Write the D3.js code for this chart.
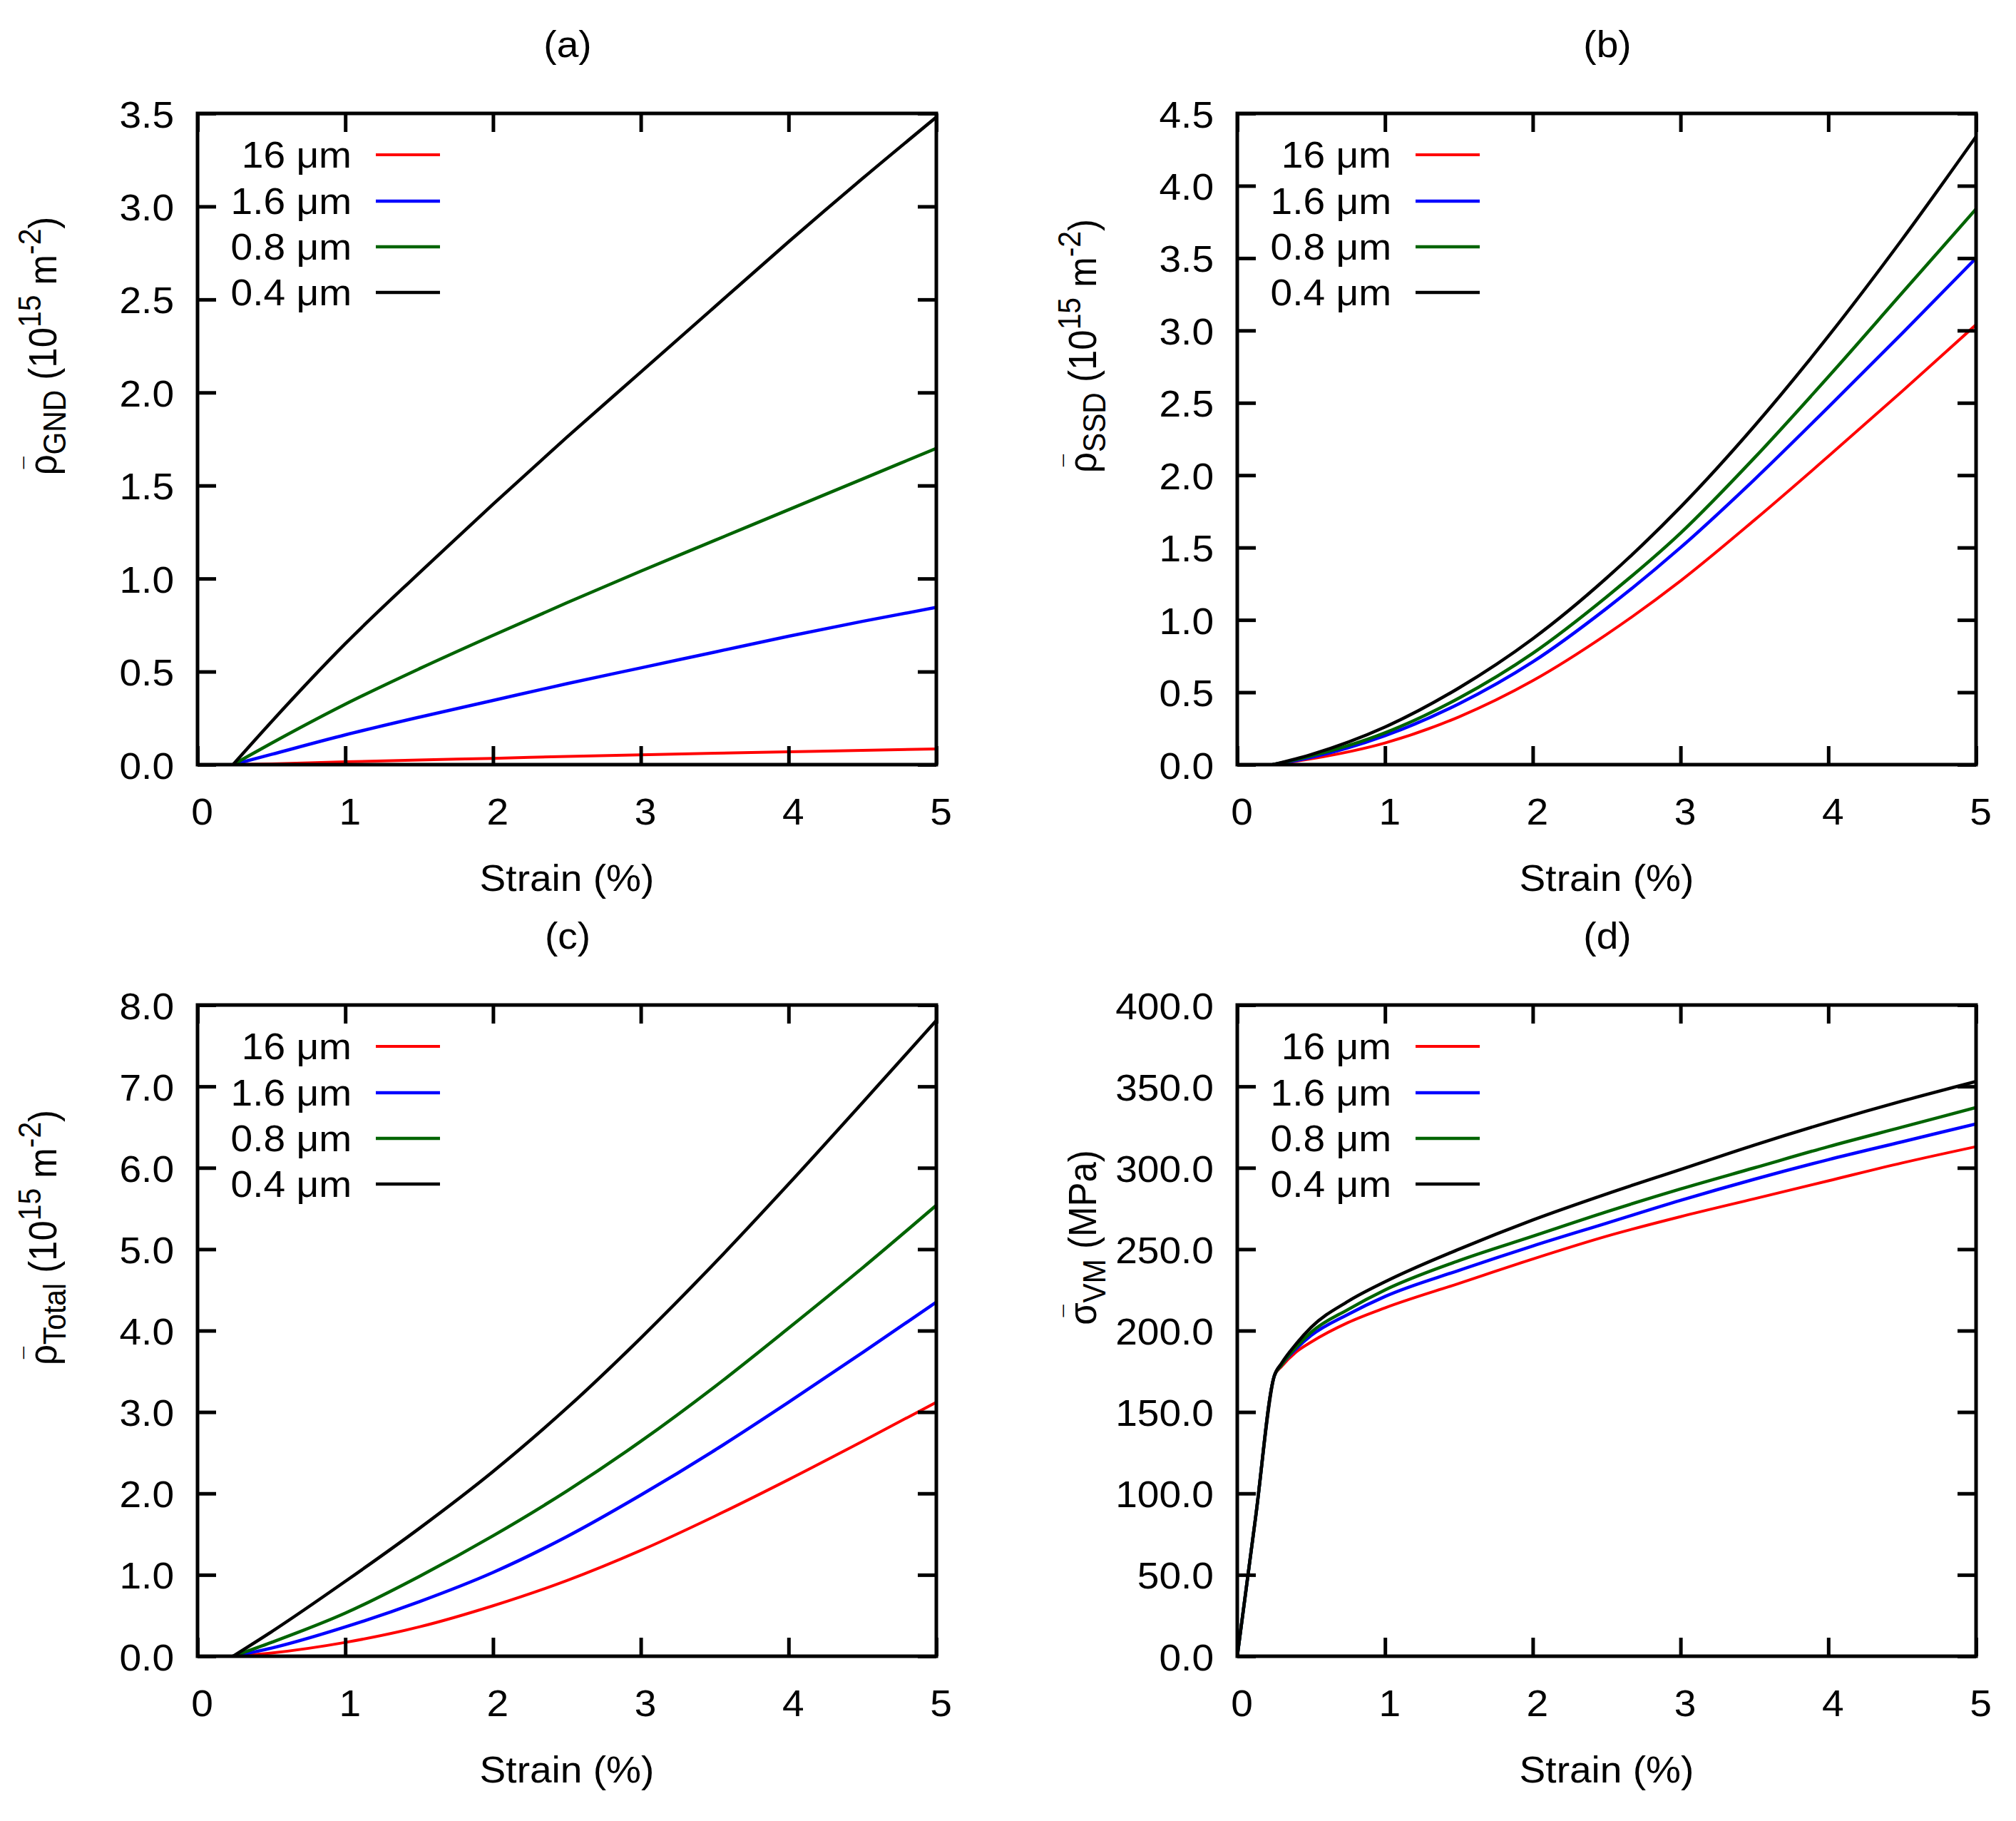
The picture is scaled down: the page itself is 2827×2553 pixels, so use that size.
<!DOCTYPE html>
<html><head><meta charset="utf-8">
<script src="https://cdn.jsdelivr.net/npm/d3@7"></script>
<style>html,body{margin:0;padding:0;background:#fff}svg{display:block}</style>
</head><body><svg id="chart"></svg>
<script>
// ---------------- data ----------------
const sizes = ["16 μm", "1.6 μm", "0.8 μm", "0.4 μm"];
const seriesColors = ["#ff0000", "#0000ff", "#006400", "#000000"];
const panelTitles = ["(a)", "(b)", "(c)", "(d)"];
const xTickValues = [0, 1, 2, 3, 4, 5];
const xLabel = "Strain (%)";

// strain (%) sampled for the dislocation density panels
const strainRho = [0.24, 0.5, 1, 1.5, 2, 2.5, 3, 3.5, 4, 4.5, 5];
// (a) GND density, 1e15 m^-2
const gnd16  = [0, 0.004, 0.015, 0.025, 0.034, 0.044, 0.053, 0.061, 0.069, 0.077, 0.084];
const gnd1_6 = [0, 0.055, 0.16, 0.255, 0.345, 0.435, 0.52, 0.605, 0.69, 0.77, 0.845];
const gnd0_8 = [0, 0.115, 0.325, 0.515, 0.695, 0.87, 1.04, 1.205, 1.37, 1.535, 1.70];
const gnd0_4 = [0, 0.23, 0.65, 1.03, 1.40, 1.76, 2.11, 2.46, 2.81, 3.15, 3.48];
// (b) SSD density
const ssd16  = [0, 0.04, 0.15, 0.33, 0.58, 0.90, 1.27, 1.69, 2.13, 2.58, 3.04];
const ssd1_6 = [0, 0.05, 0.20, 0.42, 0.71, 1.08, 1.50, 1.97, 2.47, 2.98, 3.50];
const ssd0_8 = [0, 0.06, 0.22, 0.46, 0.77, 1.16, 1.60, 2.12, 2.68, 3.26, 3.84];
const ssd0_4 = [0, 0.07, 0.26, 0.53, 0.87, 1.29, 1.78, 2.34, 2.96, 3.63, 4.34];
// (c) total density
const tot16  = [0, 0.04, 0.17, 0.36, 0.62, 0.93, 1.30, 1.72, 2.17, 2.64, 3.12];
const tot1_6 = [0, 0.10, 0.36, 0.67, 1.03, 1.47, 1.98, 2.53, 3.12, 3.73, 4.35];
const tot0_8 = [0, 0.17, 0.53, 0.98, 1.48, 2.03, 2.64, 3.31, 4.03, 4.77, 5.54];
const tot0_4 = [0, 0.30, 0.92, 1.57, 2.27, 3.05, 3.91, 4.83, 5.80, 6.80, 7.81];

// (d) von Mises stress, MPa
const strainVM = [0, 0.125, 0.25, 0.3, 0.4, 0.5, 0.75, 1, 1.5, 2, 2.5, 3, 3.5, 4, 4.5, 5];
const vm16  = [0, 86, 172, 178, 187, 193, 205, 214, 229, 244, 258, 270, 281, 292, 303, 313];
const vm1_6 = [0, 86, 172, 179, 189, 197, 210, 221, 237, 252, 266, 280, 293, 305, 316, 327];
const vm0_8 = [0, 86, 172, 179, 190, 199, 213, 225, 243, 258, 273, 287, 300, 313, 325, 337];
const vm0_4 = [0, 86, 172, 180, 192, 202, 218, 230, 250, 268, 284, 299, 314, 328, 341, 353];

const yTicksA = [0, 0.5, 1, 1.5, 2, 2.5, 3, 3.5];
const yTicksB = [0, 0.5, 1, 1.5, 2, 2.5, 3, 3.5, 4, 4.5];
const yTicksC = [0, 1, 2, 3, 4, 5, 6, 7, 8];
const yTicksD = [0, 50, 100, 150, 200, 250, 300, 350, 400];

// ---------------- layout ----------------
const W = 2827, H = 2553;
const FONT = "'Liberation Sans', Arial, sans-serif";
const FS = 51;       // font size
const SX = 1.08;     // horizontal glyph stretch seen in the reference
const svg = d3.select("#chart").attr("width", W).attr("height", H)
  .style("font-family", FONT);
svg.append("rect").attr("width", W).attr("height", H).attr("fill", "#fff");

function hText(parent, x, y, str, anchor) {
  return parent.append("text")
    .attr("transform", `translate(${x},${y}) scale(${SX},1)`)
    .attr("text-anchor", anchor || "middle")
    .attr("font-size", FS).attr("fill", "#000").text(str);
}

const panels = [
  {title: panelTitles[0], left: 277, top: 159, xs: strainRho, ys: [gnd16, gnd1_6, gnd0_8, gnd0_4], yMax: 3.5, yTicks: yTicksA, sym: "ρ", sub: "GND", unit: "density"},
  {title: panelTitles[1], left: 1735, top: 159, xs: strainRho, ys: [ssd16, ssd1_6, ssd0_8, ssd0_4], yMax: 4.5, yTicks: yTicksB, sym: "ρ", sub: "SSD", unit: "density"},
  {title: panelTitles[2], left: 277, top: 1409, xs: strainRho, ys: [tot16, tot1_6, tot0_8, tot0_4], yMax: 8, yTicks: yTicksC, sym: "ρ", sub: "Total", unit: "density"},
  {title: panelTitles[3], left: 1735, top: 1409, xs: strainVM, ys: [vm16, vm1_6, vm0_8, vm0_4], yMax: 400, yTicks: yTicksD, sym: "σ", sub: "VM", unit: "stress"}
];
const PW = 1036, PH = 913;
const TICK = 26, LW = 5;
const lineW = si => (si === 0 ? 4 : 4.5);

panels.forEach((p, pi) => {
  const g = svg.append("g").attr("transform", `translate(${p.left},${p.top})`);
  const x = d3.scaleLinear().domain([0, 5]).range([0, PW]);
  const y = d3.scaleLinear().domain([0, p.yMax]).range([PH, 0]);

  const clipId = "clip" + pi;
  g.append("clipPath").attr("id", clipId).append("rect")
    .attr("x", 0).attr("y", 0).attr("width", PW).attr("height", PH);

  // curves
  const line = d3.line().curve(d3.curveMonotoneX);
  const cg = g.append("g").attr("clip-path", `url(#${clipId})`);
  p.ys.forEach((vals, si) => {
    const pts = p.xs.map((xv, i) => [x(xv), y(vals[i])]);
    cg.append("path").attr("d", line(pts))
      .attr("fill", "none").attr("stroke", seriesColors[si])
      .attr("stroke-width", lineW(si))
      .attr("stroke-linejoin", "round");
  });

  // axes (inward ticks on all sides)
  const bottom = g.append("g").attr("transform", `translate(0,${PH})`)
    .call(d3.axisBottom(x).tickValues(xTickValues).tickSize(-TICK).tickSizeOuter(0).tickFormat(d3.format("d")));
  const top = g.append("g")
    .call(d3.axisTop(x).tickValues(xTickValues).tickSize(-TICK).tickSizeOuter(0).tickFormat(""));
  const left = g.append("g")
    .call(d3.axisLeft(y).tickValues(p.yTicks).tickSize(-TICK).tickSizeOuter(0).tickFormat(d3.format(".1f")));
  const right = g.append("g").attr("transform", `translate(${PW},0)`)
    .call(d3.axisRight(y).tickValues(p.yTicks).tickSize(-TICK).tickSizeOuter(0).tickFormat(""));
  [bottom, top, left, right].forEach(a => {
    a.select(".domain").remove();
    a.selectAll(".tick line").attr("stroke", "#000").attr("stroke-width", LW);
    a.attr("font-family", FONT).attr("font-size", FS);
  });
  bottom.selectAll("text").attr("x", null).attr("y", null).attr("dy", null)
    .attr("transform", `translate(6,84) scale(${SX},1)`)
    .attr("font-size", FS).attr("fill", "#000");
  left.selectAll("text").attr("x", null).attr("y", null).attr("dy", null)
    .attr("transform", `translate(-33,19) scale(${SX},1)`)
    .attr("text-anchor", "end")
    .attr("font-size", FS).attr("fill", "#000");

  // frame
  g.append("rect").attr("x", 0).attr("y", 0).attr("width", PW).attr("height", PH)
    .attr("fill", "none").attr("stroke", "#000").attr("stroke-width", LW);

  // title
  hText(g, PW / 2 + 1, -79, p.title, "middle");

  // x label
  hText(g, PW / 2, PH + 177, xLabel, "middle");

  // y label (rotated)
  const yl = g.append("text")
    .attr("transform", `translate(-198,326) scale(${SX},1) rotate(-90)`)
    .attr("text-anchor", "middle").attr("font-size", FS).attr("fill", "#000");
  yl.append("tspan").text(p.sym);
  yl.append("tspan").attr("font-size", FS * 0.6).attr("dx", -20).attr("dy", -19).text("¯");
  yl.append("tspan").attr("font-size", FS * 0.8).attr("dx", 3).attr("dy", 31).text(p.sub);
  if (p.unit === "density") {
    yl.append("tspan").attr("dy", -12).text(" (10");
    yl.append("tspan").attr("font-size", FS * 0.8).attr("dy", -20).text("15");
    yl.append("tspan").attr("dy", 20).text(" m");
    yl.append("tspan").attr("font-size", FS * 0.8).attr("dy", -20).text("-2");
    yl.append("tspan").attr("dy", 20).text(")");
  } else {
    yl.append("tspan").attr("dy", -12).text(" (MPa)");
  }

  // legend
  const rows = [58, 123, 187, 251];
  sizes.forEach((s, si) => {
    hText(g, 216, rows[si] + 18, s, "end");
    g.append("line").attr("x1", 250).attr("x2", 340).attr("y1", rows[si]).attr("y2", rows[si])
      .attr("stroke", seriesColors[si]).attr("stroke-width", lineW(si));
  });
});
</script></body></html>
